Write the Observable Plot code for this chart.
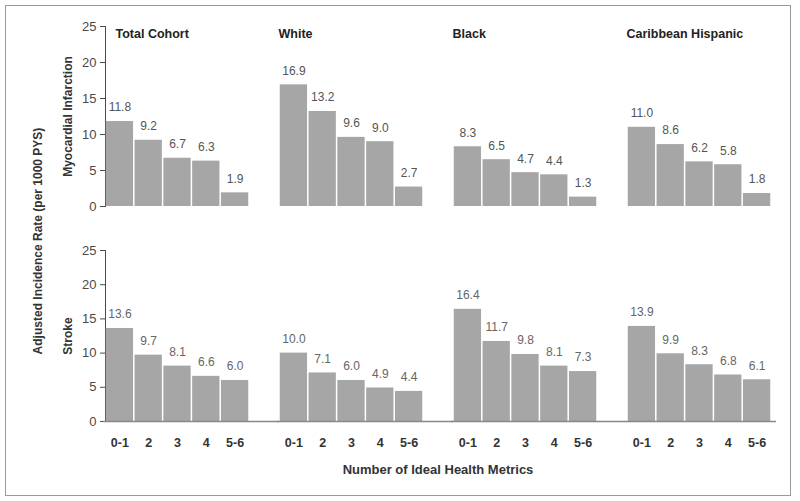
<!DOCTYPE html>
<html>
<head>
<meta charset="utf-8">
<script src="https://cdn.jsdelivr.net/npm/d3@7"></script>
<script src="https://cdn.jsdelivr.net/npm/@observablehq/plot@0.6"></script>
<style>
  html, body { margin: 0; padding: 0; background: #fff; }
  #wrap { position: relative; width: 800px; height: 501px; overflow: hidden; font-family: "Liberation Sans Narrow", "Arial Narrow", "Liberation Sans", Arial, sans-serif; }
  #border { position: absolute; left: 5px; top: 5px; width: 784px; height: 489px; border: 1px solid #999; }
  #p1, #p2 { position: absolute; left: 0; }
  #p1 { top: 0; }
  #p2 { top: 215px; }
  #ytitle { position: absolute; left: 38px; top: 241px; transform: translate(-50%, -50%) rotate(-90deg); white-space: nowrap; font-weight: bold; font-size: 12px; color: #333; }
  #xtitle { position: absolute; left: 105px; width: 666px; top: 462px; text-align: center; font-weight: bold; font-size: 13px; color: #333; }
</style>
</head>
<body>
<div id="wrap">
  <div id="border"></div>
  <div id="p1"></div>
  <div id="p2"></div>
  <div id="ytitle">Adjusted Incidence Rate (per 1000 PYS)</div>
  <div id="xtitle">Number of Ideal Health Metrics</div>
</div>
<script>
const groups = ["Total Cohort", "White", "Black", "Caribbean Hispanic"];
const metrics = ["0-1", "2", "3", "4", "5-6"];
const outcomes = ["Myocardial Infarction", "Stroke"];
const miValues = [
  [11.8, 9.2, 6.7, 6.3, 1.9],
  [16.9, 13.2, 9.6, 9.0, 2.7],
  [8.3, 6.5, 4.7, 4.4, 1.3],
  [11.0, 8.6, 6.2, 5.8, 1.8]
];
const strokeValues = [
  [13.6, 9.7, 8.1, 6.6, 6.0],
  [10.0, 7.1, 6.0, 4.9, 4.4],
  [16.4, 11.7, 9.8, 8.1, 7.3],
  [13.9, 9.9, 8.3, 6.8, 6.1]
];
const yTicks = [0, 5, 10, 15, 20, 25];

const font = '"Liberation Sans Narrow", "Arial Narrow", "Liberation Sans", Arial, sans-serif';

function toRows(values) {
  const rows = [];
  groups.forEach((g, i) => metrics.forEach((m, j) => rows.push({group: g, metric: m, value: values[i][j]})));
  return rows;
}

function panel(values, outcome, opts) {
  const rows = toRows(values);
  const marks = [
    Plot.barY(rows, {fx: "group", x: "metric", y: "value", fill: "#a6a6a6", insetLeft: 0.75, insetRight: 0.75}),
    Plot.text(rows, {fx: "group", x: "metric", y: "value", text: d => d.value.toFixed(1), dy: -14, fill: opts.labelColor, fontSize: 12}),
    Plot.text([outcome], {fx: () => groups[0], text: d => d, frameAnchor: "left", textAnchor: "middle", dx: -37, rotate: -90, fontWeight: "bold", fontSize: 12, fill: "#333"})
  ];
  if (opts.titles) {
    marks.push(Plot.text(groups.slice(0, 1), {fx: d => d, text: d => d, frameAnchor: "top-left", dx: 10, dy: 7, lineAnchor: "middle", fontWeight: "bold", fontSize: 12.5, fill: "#222"}));
    marks.push(Plot.text(groups.slice(1), {fx: d => d, text: d => d, frameAnchor: "top-left", dx: -1, dy: 7, lineAnchor: "middle", fontWeight: "bold", fontSize: 12.5, fill: "#222"}));
  }
  if (opts.baseline) {
    marks.push(Plot.ruleY(groups.slice(0, 3), {fx: d => d, y: () => 0, stroke: "#888", strokeWidth: 1.6, insetLeft: -2, insetRight: -30}));
    marks.push(Plot.ruleY(groups.slice(3), {fx: d => d, y: () => 0, stroke: "#888", strokeWidth: 1.6, insetRight: -5}));
    marks.push(Plot.axisX({tickSize: 0, tickPadding: 17, fontWeight: "bold", fontSize: 12.5, fill: "#333", label: null}));
  }
  return Plot.plot({
    width: 800,
    height: opts.height,
    marginLeft: 105,
    marginRight: 29,
    marginTop: opts.marginTop,
    marginBottom: opts.marginBottom,
    style: {fontFamily: font, fontSize: "13px", color: "#4a4a4a", background: "transparent", overflow: "visible"},
    fx: {domain: groups, axis: null, paddingInner: 30 / 174, paddingOuter: 0, round: false, label: null},
    x: {domain: metrics, axis: null, padding: 0, round: false},
    y: {domain: [0, 25], ticks: yTicks, line: true, tickSize: 5, tickPadding: 4, label: null},
    marks
  });
}

document.getElementById("p1").appendChild(panel(miValues, outcomes[0], {height: 215, marginTop: 26, marginBottom: 9, titles: true, labelColor: "#555"}));
document.getElementById("p2").appendChild(panel(strokeValues, outcomes[1], {height: 286, marginTop: 35, marginBottom: 80, baseline: true, labelColor: "#666"}));
</script>
</body>
</html>
